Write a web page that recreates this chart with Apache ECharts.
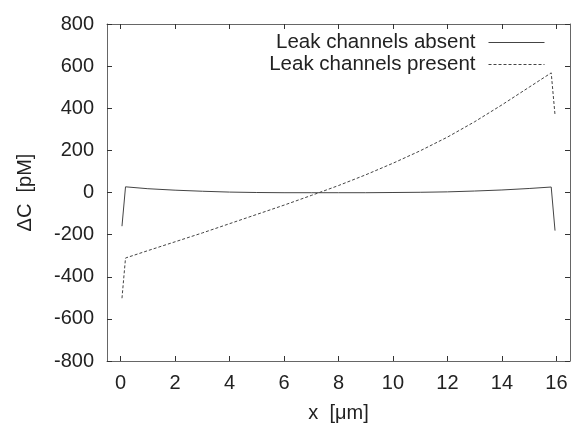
<!DOCTYPE html>
<html>
<head>
<meta charset="utf-8">
<script src="https://cdn.jsdelivr.net/npm/echarts@6/dist/echarts.min.js"></script>
<style>
  html, body { margin: 0; padding: 0; background: #fff; }
  #chart { width: 571px; height: 424px; }
</style>
</head>
<body>
<div id="chart"></div>
<script>
// leak channels absent (solid)
var absentX = [0.05, 0.18, 1, 2, 3, 4, 5, 6, 7, 8, 9, 10, 11, 12, 13, 14, 15, 15.81, 15.95];
var absentY = [-160, 27, 18, 11, 6, 2, 0, -1, -1, -1, -1, 0, 1, 3, 7, 12, 19, 26, -181];

// leak channels present (dashed)
var presentX = [0.05, 0.18, 1, 2, 3, 4, 5, 6, 7, 7.3, 8, 9, 10, 11, 12, 13, 14, 15, 15.81, 15.95];
var presentY = [-502, -311, -276, -234, -192, -148, -104, -60, -14, 0, 33, 84, 139, 198, 263, 336, 416, 500, 568, 368];

var xTicks = [0, 2, 4, 6, 8, 10, 12, 14, 16];

var names = ['Leak channels absent', 'Leak channels present'];

function pairs(xs, ys) {
    var out = [];
    for (var i = 0; i < xs.length; i++) {
        out.push([xs[i], ys[i]]);
    }
    return out;
}

var frameColor = '#666';
var lineColor = '#444';
var font = 'Liberation Sans, Arial, Helvetica, sans-serif';

function xAxisCfg(pos, showLabels) {
    return {
        type: 'value',
        position: pos,
        min: -0.5,
        max: 16.5,
        name: showLabels ? 'x  [\u03bcm]' : '',
        nameLocation: 'middle',
        nameGap: 42,
        nameTextStyle: { fontFamily: font, fontSize: 20, color: '#222' },
        axisLine: { show: true, onZero: false, lineStyle: { color: frameColor, width: 1 } },
        axisTick: { show: true, inside: true, length: 5, customValues: xTicks, lineStyle: { color: '#333' } },
        axisLabel: { show: showLabels, customValues: xTicks, margin: 12, fontFamily: font, fontSize: 20, color: '#222' },
        splitLine: { show: false }
    };
}

function yAxisCfg(pos, showLabels) {
    return {
        type: 'value',
        position: pos,
        min: -800,
        max: 800,
        interval: 200,
        name: showLabels ? '\u0394C  [pM]' : '',
        nameLocation: 'middle',
        nameGap: 72,
        nameRotate: 90,
        nameTextStyle: { fontFamily: font, fontSize: 20, color: '#222' },
        axisLine: { show: true, onZero: false, lineStyle: { color: frameColor, width: 1 } },
        axisTick: { show: true, inside: true, length: 5, lineStyle: { color: '#333' } },
        axisLabel: { show: showLabels, margin: 13, fontFamily: font, fontSize: 20, color: '#222' },
        splitLine: { show: false }
    };
}

var myChart = echarts.init(document.getElementById('chart'));
var option = {
    animation: false,
    backgroundColor: '#fff',
    grid: {
        left: 107,
        top: 24,
        right: 1,
        bottom: 63,
        outerBoundsMode: 'none'
    },
    legend: {
        data: names,
        orient: 'vertical',
        align: 'right',
        right: 21,
        top: 27,
        itemWidth: 56,
        itemHeight: 14,
        itemGap: 1,
        itemStyle: { opacity: 0 },
        lineStyle: { width: 1 },
        textStyle: { fontFamily: font, fontSize: 20.5, color: '#222', padding: [0, 8, 0, 0] }
    },
    xAxis: [xAxisCfg('bottom', true), xAxisCfg('top', false)],
    yAxis: [yAxisCfg('left', true), yAxisCfg('right', false)],
    series: [
        {
            name: names[0],
            type: 'line',
            data: pairs(absentX, absentY),
            symbol: 'none',
            itemStyle: { color: lineColor },
            lineStyle: { color: lineColor, width: 1 }
        },
        {
            name: names[1],
            type: 'line',
            data: pairs(presentX, presentY),
            symbol: 'none',
            itemStyle: { color: lineColor },
            lineStyle: { color: lineColor, width: 1, type: [3, 2] }
        }
    ]
};
myChart.setOption(option);
</script>
</body>
</html>
